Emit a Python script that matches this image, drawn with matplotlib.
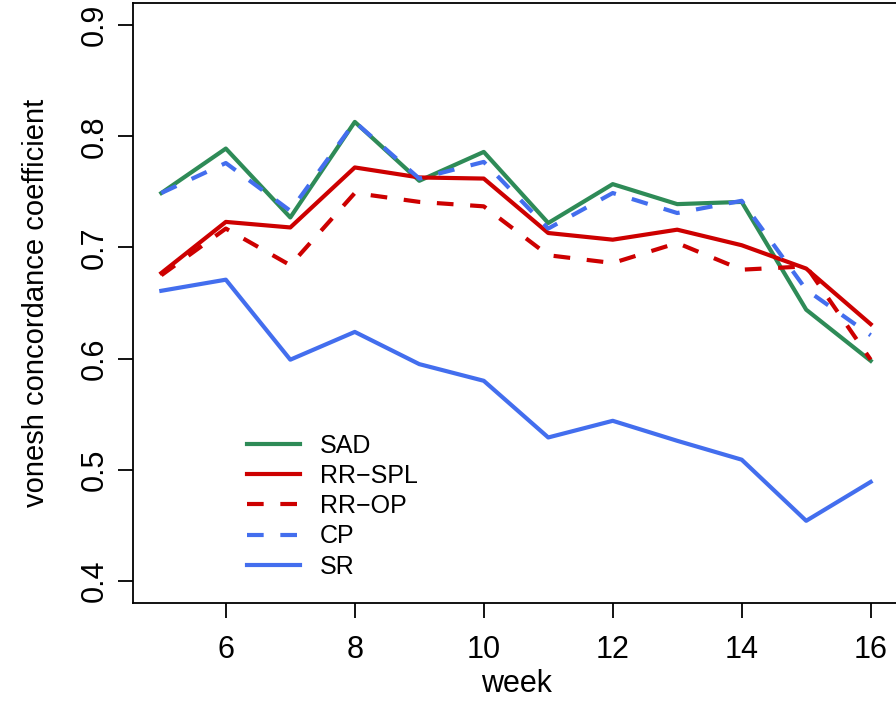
import matplotlib
matplotlib.use("Agg")
import matplotlib.pyplot as plt

plt.rcParams['font.family'] = ['Liberation Sans', 'DejaVu Sans']

weeks = [5, 6, 7, 8, 9, 10, 11, 12, 13, 14, 15, 16]
sad = [0.749, 0.789, 0.727, 0.813, 0.760, 0.786, 0.722, 0.757, 0.739, 0.741, 0.644, 0.598]
rr_spl = [0.677, 0.723, 0.718, 0.772, 0.763, 0.762, 0.713, 0.707, 0.716, 0.702, 0.681, 0.631]
rr_op = [0.675, 0.717, 0.684, 0.749, 0.741, 0.737, 0.693, 0.686, 0.704, 0.680, 0.683, 0.599]
cp = [0.749, 0.776, 0.733, 0.813, 0.762, 0.777, 0.717, 0.749, 0.731, 0.742, 0.662, 0.621]
sr = [0.661, 0.671, 0.599, 0.624, 0.595, 0.580, 0.529, 0.544, 0.526, 0.509, 0.454, 0.489]

green = '#2E8B57'
red = '#CD0000'
blue = '#436EEE'

fig = plt.figure(figsize=(8.96, 7.15), dpi=100)
ax = fig.add_axes([0.1484, 0.1566, 0.855, 0.8392])

ax.plot(weeks, sad, color=green, lw=3, label='SAD')
ax.plot(weeks, rr_spl, color=red, lw=3, label='RR\u2212SPL')
ax.plot(weeks, rr_op, color=red, lw=3, ls=(0, (4, 4)), label='RR\u2212OP')
ax.plot(weeks, cp, color=blue, lw=3, ls=(0, (4, 4)), label='CP')
ax.plot(weeks, sr, color=blue, lw=3, label='SR')

ax.set_xlim(4.56, 16.44)
ax.set_ylim(0.38, 0.92)
ax.set_xticks([6, 8, 10, 12, 14, 16])
ax.set_yticks([0.4, 0.5, 0.6, 0.7, 0.8, 0.9])
ax.set_yticklabels(['0.4', '0.5', '0.6', '0.7', '0.8', '0.9'], rotation=90, va='center')
ax.tick_params(direction='out', length=11, width=1.3, labelsize=22)
ax.tick_params(axis='x', pad=12)
ax.tick_params(axis='y', pad=6)
for s in ax.spines.values():
    s.set_linewidth(1.3)

ax.set_xlabel('week', fontsize=22, labelpad=3)
ax.set_ylabel('vonesh concordance coefficient', fontsize=21, labelpad=21)

ax.legend(loc='lower left', bbox_to_anchor=(0.12, 0.003), frameon=False, fontsize=18,
          handlelength=2.1, labelspacing=0.25, handletextpad=0.8)

fig.savefig('out.png', dpi=100)
